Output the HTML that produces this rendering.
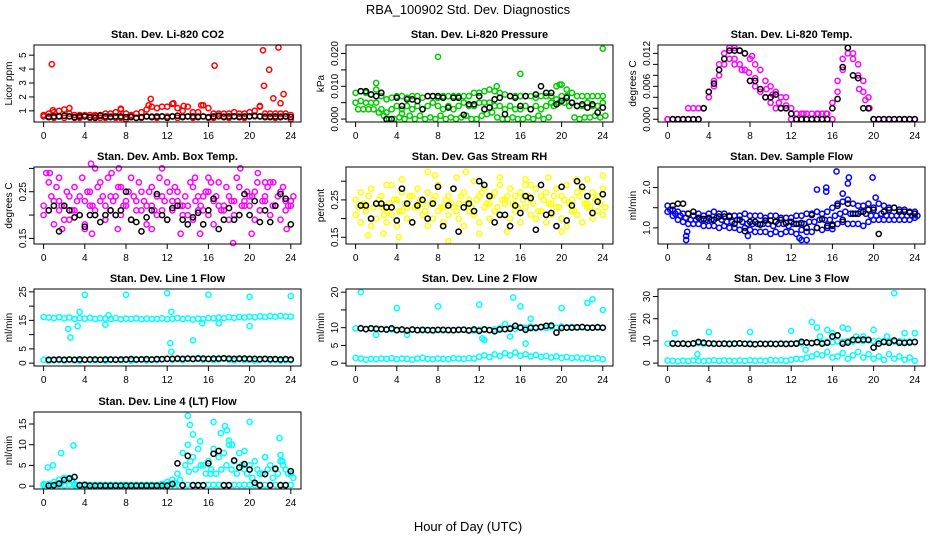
<!DOCTYPE html>
<html><head><meta charset="utf-8"><style>
html,body{margin:0;padding:0;background:#fff}
svg{display:block;font-family:"Liberation Sans",sans-serif}
</style></head><body>
<svg id="chart" width="936" height="540" viewBox="0 0 936 540">
<text x="468" y="14" text-anchor="middle" font-size="13">RBA_100902  Std. Dev. Diagnostics</text>
<text x="468" y="531" text-anchor="middle" font-size="13">Hour of Day (UTC)</text>
</svg>
<script>
// ---- data (colored series sampled every 0.5 h; black series every 0.5 h from 0.5) ----
const hourTicks=[0,4,8,12,16,20,24];
const co2Upper=[0.7,0.8,0.9,1.0,1.1,0.8,0.7,0.7,0.7,0.7,0.7,0.7,0.8,0.8,0.9,1.1,0.8,0.7,0.8,0.9,1.1,1.3,1.2,1.3,1.3,1.5,1.2,1.0,1.3,0.9,0.9,1.4,1.2,0.8,0.8,0.8,0.8,0.9,0.8,0.8,0.9,1.0,1.3,0.8,0.8,0.8,0.8,0.8,0.7];
const co2Lower=[0.6,0.6,0.5,0.6,0.5,0.6,0.5,0.5,0.6,0.5,0.6,0.5,0.5,0.6,0.5,0.5,0.4,0.6,0.5,0.5,0.6,0.6,0.5,0.6,0.6,0.6,0.5,0.6,0.6,0.5,0.6,0.6,0.5,0.5,0.6,0.6,0.5,0.6,0.6,0.5,0.6,0.6,0.6,0.6,0.6,0.5,0.6,0.6,0.4];
const co2Outliers=[[0.8,4.35],[16.6,4.25],[21.3,5.35],[22.8,5.55],[21.9,3.95],[21.4,2.8],[22.3,1.9],[23.3,2.2],[23,1.55],[10.4,1.85],[13.6,1.35],[15.3,1.4],[21,1.35],[7.5,1.15],[10.2,1.4],[12.6,1.55],[2.5,1.2],[0.9,1.05]];
const co2Black=[0.55,0.6,0.6,0.65,0.6,0.55,0.6,0.6,0.55,0.5,0.65,0.6,0.55,0.6,0.6,0.55,0.55,0.5,0.55,0.6,0.55,0.6,0.6,0.5,0.6,0.65,0.55,0.6,0.6,0.55,0.6,0.55,0.6,0.65,0.55,0.6,0.6,0.55,0.6,0.6,0.65,0.6,0.55,0.55,0.6,0.55,0.6,0.55];

const presUpper=[8,8.5,8,7.5,9,7,6,6.5,7,7,6.5,7,7,6.5,7,7,6.5,7,7,7,7,7,7,8,8,8.5,9,8.5,8,7.5,7,7,7,7,7,6.5,7,7,7,10,10.5,9,8,7,7,7,7,7,7];
const presMid=[5,5.5,5,5,5,3,2,3,4,3,4,3,4,3,4,5,4,3,4,3,4,5,4,4,5,5,5,4,4,3,4,3,3,4,3,4,3,4,5,6,7,7,5,4,4,5,4,4,5];
const presLower=[3,3,3,3,2,1,0,0,0.5,0,1,0,1,0,0.5,0,1,0,0.5,0,0.5,1,0,0,1,1.5,2,0.5,0,0,0.5,0,0,0.5,0,1,0,0.5,4,5,5,4,0.5,0,0.5,0.5,1,0.5,1];
const presOutliers=[[8,19],[16,13.8],[24,21.5],[2,11],[19.8,10.5],[13.7,10],[4.5,1.7]];
const presBlack=[8.5,8.5,7.5,7,8,0,0,6.5,4,6,6,5.5,3,7,7,7,6.5,3.5,6.5,6.5,1.3,4.5,4.5,7,3,3.5,6,6.5,1.5,7,6.5,4,7,3,7.5,10,8,8,4.5,5.5,6.5,5,4,4.5,3.5,4.5,2,3.5];

const tempUpper=[0,0,0,0,2,2,2,2,5,7,10,12,13,13,12.5,12,11,10,9,7,6,5,4,4,2,1,1,1,1,1,1,1,3,7,11,13,12,10,7,4,0,0,0,0,0,0,0,0,0];
const tempLower=[0,0,0,0,0,0,0,2,4,6,8,10,11,11,10,9,7,6,5,4,3,2,2,2,0,0,0,0,0,0,0,0,0,5,9,12,11,8,5,2,0,0,0,0,0,0,0,0,0];
const tempOutliers=[[7.9,8.5],[8.5,7.5],[9.6,5.5],[10.2,4.5],[10.8,3],[11.5,2.5],[12.5,1],[13.2,1],[14.6,1],[15.4,1],[18.6,5.5],[19.2,3.5],[19.6,2],[6.5,10],[7.2,9],[8.2,11.5]];
const tempBlack=[0,0,0,0,0,0,2,5,6.5,9,11,12.5,12.5,12.5,12,7,7,5.5,4,4,4.5,2,2,1,0,0,0,0,0,0,0,2,3.7,9.5,13,8,7.5,2,2,0,0,0,0,0,0,0,0,0];

const ambUpper=[0.22,0.27,0.23,0.21,0.19,0.24,0.26,0.20,0.23,0.25,0.21,0.27,0.22,0.24,0.20,0.26,0.23,0.28,0.21,0.25,0.22,0.26,0.24,0.21,0.27,0.23,0.25,0.22,0.20,0.26,0.24,0.21,0.25,0.23,0.27,0.22,0.24,0.20,0.26,0.23,0.22,0.25,0.21,0.24,0.27,0.22,0.25,0.23,0.22];
const ambLower=[0.20,0.21,0.18,0.23,0.22,0.19,0.21,0.24,0.18,0.22,0.20,0.23,0.19,0.21,0.24,0.20,0.22,0.19,0.23,0.21,0.18,0.22,0.20,0.24,0.19,0.21,0.23,0.20,0.22,0.19,0.21,0.24,0.20,0.18,0.22,0.21,0.19,0.23,0.20,0.22,0.24,0.19,0.21,0.23,0.20,0.22,0.19,0.21,0.23];
const ambMid=[0.29,0.24,0.26,0.22,0.25,0.21,0.23,0.28,0.25,0.22,0.26,0.24,0.28,0.23,0.26,0.22,0.25,0.24,0.27,0.23,0.25,0.21,0.28,0.23,0.25,0.26,0.22,0.24,0.27,0.23,0.22,0.25,0.27,0.24,0.21,0.26,0.23,0.28,0.22,0.25,0.24,0.27,0.23,0.26,0.22,0.24,0.26,0.22,0.24];
const ambOutliers=[[0.6,0.29],[1.5,0.28],[4.6,0.31],[5,0.30],[6.6,0.29],[7.3,0.30],[11.5,0.30],[14.7,0.28],[16,0.28],[19.1,0.30],[20.8,0.29],[21.5,0.27],[22.3,0.27],[1.8,0.17],[4,0.17],[4.7,0.16],[7.2,0.17],[10.5,0.17],[13.3,0.16],[15.2,0.16],[18.4,0.14],[20.2,0.16],[23.6,0.17]];
const ambBlack=[0.21,0.22,0.165,0.22,0.21,0.195,0.20,0.175,0.20,0.20,0.185,0.20,0.21,0.20,0.21,0.25,0.19,0.185,0.165,0.195,0.21,0.245,0.20,0.19,0.215,0.22,0.19,0.18,0.195,0.205,0.18,0.21,0.235,0.17,0.19,0.215,0.19,0.20,0.245,0.20,0.23,0.185,0.21,0.185,0.22,0.245,0.235,0.18];

const rhUpper=[0.25,0.27,0.23,0.28,0.24,0.26,0.22,0.29,0.25,0.27,0.23,0.26,0.28,0.24,0.27,0.25,0.29,0.23,0.26,0.28,0.24,0.27,0.25,0.30,0.26,0.28,0.24,0.27,0.29,0.25,0.28,0.26,0.27,0.29,0.25,0.28,0.26,0.27,0.24,0.28,0.26,0.29,0.25,0.27,0.28,0.24,0.27,0.26,0.28];
const rhLower=[0.21,0.19,0.22,0.18,0.20,0.23,0.19,0.21,0.18,0.22,0.20,0.19,0.23,0.21,0.18,0.20,0.22,0.19,0.21,0.23,0.20,0.18,0.22,0.21,0.19,0.23,0.20,0.22,0.21,0.24,0.20,0.22,0.19,0.23,0.21,0.20,0.22,0.19,0.21,0.23,0.20,0.18,0.22,0.21,0.19,0.23,0.20,0.22,0.21];
const rhMid=[0.23,0.24,0.26,0.23,0.25,0.21,0.24,0.25,0.22,0.24,0.26,0.23,0.25,0.22,0.24,0.26,0.23,0.25,0.24,0.22,0.26,0.24,0.23,0.25,0.27,0.24,0.26,0.23,0.25,0.26,0.24,0.23,0.25,0.26,0.24,0.22,0.25,0.24,0.26,0.23,0.25,0.24,0.22,0.26,0.24,0.23,0.25,0.24,0.23];
const rhOutliers=[[1.2,0.155],[2.7,0.16],[4.2,0.15],[7,0.325],[7.7,0.315],[9,0.14],[10.7,0.325],[9.8,0.31],[12,0.16],[14,0.31],[14.7,0.165],[16.5,0.305],[18.7,0.31],[20,0.165],[21.4,0.305],[22.5,0.305],[24,0.315],[4.5,0.305],[3,0.29],[17,0.29]];
const rhBlack=[0.235,0.235,0.20,0.24,0.24,0.23,0.23,0.195,0.28,0.24,0.19,0.235,0.25,0.20,0.24,0.285,0.18,0.235,0.28,0.165,0.23,0.24,0.22,0.30,0.29,0.26,0.19,0.21,0.21,0.18,0.235,0.215,0.26,0.255,0.17,0.29,0.21,0.215,0.18,0.285,0.195,0.235,0.30,0.285,0.26,0.215,0.245,0.265];

const flowUpper=[1.55,1.45,1.4,1.35,1.35,1.3,1.35,1.3,1.35,1.4,1.35,1.35,1.3,1.3,1.3,1.35,1.3,1.3,1.3,1.25,1.3,1.3,1.25,1.25,1.25,1.3,1.3,1.35,1.35,1.4,1.35,1.4,1.5,1.6,1.65,1.7,1.6,1.55,1.55,1.6,1.5,1.6,1.55,1.5,1.5,1.45,1.45,1.4,1.4];
const flowLower=[1.4,1.3,1.2,1.15,1.1,1.1,1.1,1.05,1.05,1.05,1.0,1.05,1.0,1.0,0.95,1.0,0.95,0.9,0.9,0.9,0.85,0.9,0.85,0.9,0.9,0.85,0.95,0.9,0.9,1.0,0.95,1.0,1.05,1.1,1.15,1.1,1.1,1.1,1.05,1.15,1.2,1.2,1.2,1.2,1.2,1.2,1.2,1.2,1.25];
const flowMid=[1.45,1.35,1.3,1.25,1.2,1.2,1.2,1.2,1.2,1.25,1.2,1.15,1.15,1.2,1.15,1.1,1.1,1.1,1.1,1.1,1.05,1.1,1.1,1.05,1.1,1.1,1.1,1.15,1.15,1.2,1.2,1.2,1.3,1.35,1.4,1.35,1.35,1.4,1.35,1.3,1.3,1.35,1.3,1.3,1.3,1.3,1.3,1.3,1.3];
const flowOutliers=[[1.8,0.7],[1.8,0.8],[1.9,0.9],[14.5,1.95],[15.4,2.0],[15.4,1.9],[16.4,2.4],[17.5,2.1],[17.6,2.25],[19.9,2.25],[13,0.7],[13.5,0.7],[7.8,0.8],[12.8,0.75],[16,0.97],[17,1.85],[20.2,1.75]];
const flowBlack=[1.55,1.6,1.6,1.35,1.4,1.25,1.22,1.25,1.2,1.28,1.28,1.28,1.1,1.2,0.92,1.15,1.15,1.08,1.18,1.18,1.15,1.2,1.12,1.15,1.1,1.12,1.0,1.32,1.0,1.22,1.05,1.08,1.55,1.2,1.6,1.35,1.35,1.4,1.45,1.45,0.85,1.4,1.45,1.5,1.4,1.4,1.38,1.35];

const l1Upper=[16.2,16.0,15.8,16.1,15.7,16.0,15.5,15.8,15.6,15.9,15.5,15.7,15.6,15.5,15.8,15.4,15.6,15.5,15.7,15.4,15.6,15.5,15.5,15.7,15.4,15.6,15.8,15.5,15.7,15.3,15.6,15.5,15.8,15.7,16.0,15.8,16.1,15.9,16.2,16.0,16.3,16.1,16.4,16.2,16.5,16.3,16.6,16.4,16.3];
const l1Lower=[1.2,0.8,1.0,1.1,0.9,1.2,1.0,0.9,1.3,1.1,1.0,1.2,0.9,1.1,1.3,1.0,1.2,0.9,1.1,1.4,1.0,1.2,1.1,1.3,1.5,1.2,1.4,1.1,1.6,1.3,1.8,1.2,1.4,1.1,1.3,1.5,1.2,1.0,1.3,1.1,1.2,0.9,1.1,1.3,1.0,1.2,0.9,1.1,1.0];
const l1Outliers=[[4,24],[8,24],[12,24.5],[16,24],[20,23.3],[24,23.5],[2.4,12],[2.6,9],[3.3,13],[3.5,18],[6,13.5],[12.3,7],[12.4,4],[12.4,18],[14.5,8],[17,14],[20,13],[15.4,14],[6.3,16.8]];
const l1Black=[1.2,1.2,1.3,1.2,1.3,1.2,1.3,1.2,1.3,1.3,1.2,1.3,1.3,1.2,1.3,1.3,1.4,1.3,1.3,1.4,1.3,1.4,1.4,1.5,1.5,1.6,1.5,1.6,1.5,1.6,1.6,1.5,1.6,1.6,1.7,1.6,1.5,1.6,1.6,1.5,1.5,1.4,1.5,1.4,1.4,1.3,1.4,1.3];

const l2Upper=[9.8,9.9,9.6,9.7,9.5,9.6,9.4,9.5,9.3,9.4,9.2,9.4,9.3,9.2,9.4,9.1,9.3,9.2,9.4,9.2,9.3,9.5,9.3,9.2,9.4,9.6,9.3,9.5,9.8,9.6,9.9,9.7,10.2,10.0,10.3,9.8,10.1,9.9,10.2,10.0,10.3,10.1,10.2,10.0,10.1,9.9,10.0,10.2,10.0];
const l2Lower=[1.5,1.3,1.0,1.2,1.1,1.3,1.2,1.4,1.1,1.3,1.2,1.0,1.3,1.5,1.2,1.1,1.3,1.2,1.1,1.4,1.3,1.2,1.4,1.3,1.8,2.2,1.7,2.5,2.0,2.8,2.2,3.0,2.1,2.5,1.9,2.3,1.8,2.0,1.6,1.9,1.5,1.7,1.4,1.6,1.3,1.5,1.2,1.4,1.1];
const l2Outliers=[[0.5,20],[4,15.5],[8,16],[12,16.5],[16,16],[20,15.5],[24,15],[15.3,18.5],[22.5,17],[23,18],[16.5,5.5],[17,12.5],[12.3,7],[12.5,6.5],[2,8],[5,8],[14.5,11],[15,7.5]];
const l2Black=[9.8,9.6,9.8,9.7,9.6,9.5,9.8,9.3,9.5,9.2,9.5,9.3,9.4,9.3,9.3,9.4,9.4,9.3,9.3,9.4,9.4,9.2,9.5,9.1,9.5,9.3,9.0,9.5,9.6,9.7,10.5,10.0,9.4,9.9,10.0,10.2,10.5,10.6,8.6,9.9,10.0,10.0,10.1,10.2,10.0,10.0,10.1,10.0];

const l3Upper=[8.8,9.0,8.7,8.9,8.6,8.8,9.0,8.7,8.9,8.6,8.8,8.7,8.9,8.6,8.8,8.7,8.9,8.6,8.8,8.7,8.8,8.6,8.9,8.7,8.8,9.0,8.9,9.2,9.0,9.4,9.2,9.6,9.4,9.8,9.6,10.0,9.8,10.2,10.0,10.3,9.9,10.1,9.8,10.0,9.7,9.9,9.6,9.8,9.5];
const l3Lower=[1.2,1.0,0.8,1.1,0.9,1.2,1.0,0.9,1.1,1.3,1.0,1.2,1.1,0.9,1.2,1.0,1.3,1.1,1.2,1.0,1.4,1.2,1.3,1.1,1.5,2.0,1.8,2.5,3.0,4.0,3.5,5.0,2.5,3.0,4.5,2.0,3.5,5.0,2.5,4.0,2.0,3.0,1.5,4.0,2.0,3.0,1.5,2.5,1.0];
const l3Outliers=[[0.7,13.5],[4,14],[8,14],[12,14.5],[14,18.5],[14.5,16],[15.5,15],[16,13.5],[17,16],[17.5,15.5],[20,15],[22,31.5],[23,13.5],[24,13.5],[2.9,4],[13.4,6],[14.8,12],[18.3,12],[19,12],[21.3,12]];
const l3Black=[8.8,8.7,8.8,8.6,8.9,9.5,9.2,8.9,8.8,8.7,8.8,8.6,8.8,8.9,8.7,8.6,8.5,8.7,8.6,8.7,8.6,8.7,8.6,8.7,8.8,9.6,9.3,9.0,9.4,8.8,9.2,12.0,12.5,8.8,9.3,10.5,10.5,10.6,10.5,7.0,8.8,9.5,9.2,10.2,9.2,9.1,9.3,9.5];

const l4Upper=[0.5,0.5,1,1.5,2,2,0.5,0.3,0.3,0.3,0.3,0.3,0.3,0.3,0.3,0.3,0.3,0.3,0.3,0.3,0.3,0.3,0.3,0.5,1,1.5,3,8,10,7,9,5,6,9,7,8,10,6,8,4,5,6,3,7,5,4,6,4,3];
const l4Lower=[0.2,0.2,0.3,0.2,0.2,0.3,0.2,0.2,0.2,0.2,0.2,0.2,0.2,0.2,0.2,0.2,0.2,0.2,0.2,0.2,0.2,0.2,0.2,0.2,0.3,0.3,0.3,0.3,0.3,0.3,0.3,0.3,0.3,0.3,0.3,0.3,0.3,0.3,0.3,0.3,0.3,0.3,0.3,0.3,0.3,0.3,0.3,0.3,0.3];
const l4Mid=[0.3,0.3,0.5,0.8,1.2,1.5,0.3,0.2,0.2,0.2,0.2,0.2,0.2,0.2,0.2,0.2,0.2,0.2,0.2,0.2,0.2,0.2,0.2,0.3,0.5,0.8,1.5,5,6,4,5,3,4,3,4,5,4,3,5,3,2,4,3,4,2,3,5,3,2];
const l4Outliers=[[0.4,4.5],[0.9,5],[1.7,8],[2.9,9.8],[14,17],[14.2,14.8],[14.5,12.5],[16.5,15.5],[17.2,12.8],[17.6,14.5],[17.8,13.5],[20,15.5],[22.9,11.6],[14.1,3.5],[15.2,10.8],[18,11],[19.5,8.5],[18.3,10],[16.2,3],[21.5,7],[23,7.5],[23.2,6]];
const l4Black=[0.1,0.2,0.6,1.5,1.8,2.2,0.2,0.3,0.1,0.1,0.1,0.1,0.1,0.1,0.1,0.1,0.1,0.1,0.1,0.1,0.1,0.1,0.1,0.1,0.5,5.5,0.2,7.3,0.2,0.2,0.2,5.5,7.8,8.5,0.2,0.2,6.2,4.5,5.3,4.0,0.8,0.2,2.9,0.2,4.2,0.2,0.2,3.6];

const panelTitles=["Stan. Dev. Li-820 CO2","Stan. Dev. Li-820 Pressure","Stan. Dev. Li-820 Temp.","Stan. Dev. Amb. Box Temp.","Stan. Dev. Gas Stream RH","Stan. Dev. Sample Flow","Stan. Dev. Line 1 Flow","Stan. Dev. Line 2 Flow","Stan. Dev. Line 3 Flow","Stan. Dev. Line 4 (LT) Flow"];
const yTitles=["Licor ppm","kPa","degrees C","degrees C","percent","ml/min","ml/min","ml/min","ml/min","ml/min"];
const yTicks=[[1,2,3,4,5],[0,5,10,15,20],[0,2,4,6,8,10,12],[0.15,0.2,0.25,0.3],[0.15,0.2,0.25,0.3],[1,1.5,2],[0,5,10,15,20,25],[0,5,10,15,20],[0,10,20,30],[0,5,10,15]];
const yTickLabels=[["1","2","3","4","5"],["0.000","","0.010","","0.020"],["0.000","","","0.006","","","0.012"],["0.15","","0.25",""],["0.15","","0.25",""],["1.0","","2.0"],["0","5","","15","","25"],["0","5","10","","20"],["0","10","20","30"],["0","5","10","15"]];

// ---- layout ----
const colLeft=[34,346,658], rowTop=[45,167,289,412], PW=267, PH=77;
const panels=[
 {ylim:[0.2,5.73],color:"#ff0000",series:[co2Upper,co2Lower],out:co2Outliers,black:co2Black},
 {ylim:[-0.9,22.6],color:"#00cd00",series:[presUpper,presMid,presLower],out:presOutliers,black:presBlack},
 {ylim:[-0.5,13.53],color:"#ff00ff",series:[tempUpper,tempLower],out:tempOutliers,black:tempBlack},
 {ylim:[0.138,0.303],color:"#ff00ff",series:[ambUpper,ambLower,ambMid],out:ambOutliers,black:ambBlack},
 {ylim:[0.132,0.338],color:"#ffff00",series:[rhUpper,rhLower,rhMid],out:rhOutliers,black:rhBlack},
 {ylim:[0.6,2.51],color:"#0000ff",series:[flowUpper,flowLower,flowMid],out:flowOutliers,black:flowBlack},
 {ylim:[-1,26],color:"#00ffff",series:[l1Upper,l1Lower],out:l1Outliers,black:l1Black},
 {ylim:[-0.8,20.9],color:"#00ffff",series:[l2Upper,l2Lower],out:l2Outliers,black:l2Black},
 {ylim:[-1.3,33.4],color:"#00ffff",series:[l3Upper,l3Lower],out:l3Outliers,black:l3Black},
 {ylim:[-0.7,17.9],color:"#00ffff",series:[l4Upper,l4Lower,l4Mid],out:l4Outliers,black:l4Black}
];
const NS="http://www.w3.org/2000/svg";
const svg=document.getElementById("chart");
function mk(tag,attrs,parent){const e=document.createElementNS(NS,tag);for(const k in attrs)e.setAttribute(k,attrs[k]);parent.appendChild(e);return e;}
panels.forEach((p,i)=>{
  const L=colLeft[i%3], T=rowTop[Math.floor(i/3)];
  const xs=h=>L+9.6+h*10.3;
  const ys=v=>T+(p.ylim[1]-v)/(p.ylim[1]-p.ylim[0])*PH;
  const g=mk("g",{},svg);
  
  
  const t=mk("text",{x:L+PW/2,y:T-7,"text-anchor":"middle","font-size":"11","font-weight":"bold"},g);
  t.textContent=panelTitles[i];
  
  
  const yt=mk("text",{transform:`translate(${L-22},${T+PH/2}) rotate(-90)`,"text-anchor":"middle","font-size":"10"},g);
  yt.textContent=yTitles[i];
  
  
  hourTicks.forEach(h=>{
    const x=xs(h);
    mk("line",{x1:x,x2:x,y1:T+PH,y2:T+PH+5,stroke:"#000"},g);
    const tl=mk("text",{x:x,y:T+PH+17,"text-anchor":"middle","font-size":"10"},g);
    tl.textContent=h;
    
    
  });
  yTicks[i].forEach((v,k)=>{
    const y=ys(v);
    mk("line",{x1:L-5,x2:L,y1:y,y2:y,stroke:"#000"},g);
    if(yTickLabels[i][k]){const tl=mk("text",{transform:`translate(${L-8},${y}) rotate(-90)`,"text-anchor":"middle","font-size":"10"},g);tl.textContent=yTickLabels[i][k];
    
    }
  });
  const pts=mk("g",{fill:"none","stroke-width":"1.5"},g);
  p.series.forEach((s,si)=>s.forEach((v,k)=>{
    const off=si===2?0.25:0;
    const c=mk("circle",{cx:xs(off+k*0.5),cy:ys(v),r:2.6,stroke:p.color},pts);
    
    
  }));
  p.out.forEach(o=>{
    const c=mk("circle",{cx:xs(o[0]),cy:ys(o[1]),r:2.6,stroke:p.color},pts);
    
    
  });
  p.black.forEach((v,k)=>{
    const c=mk("circle",{cx:xs(0.5+k*0.5),cy:ys(v),r:2.6,stroke:"#000"},pts);
    
    
  });
  const box=mk("rect",{x:L,y:T,width:PW,height:PH,fill:"none",stroke:"#000","stroke-width":"1"},g);
  
  
});
</script>
</body></html>
